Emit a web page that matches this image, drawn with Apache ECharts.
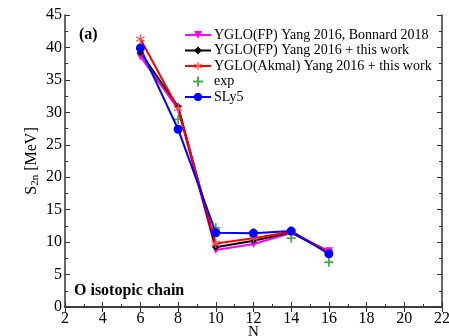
<!DOCTYPE html>
<html><head><meta charset="utf-8">
<script src="https://cdn.jsdelivr.net/npm/echarts@6/dist/echarts.min.js"></script>
<style>html,body{margin:0;padding:0;background:#fff}#c{width:449px;height:336px}</style>
</head><body><div id="c"></div>
<script>
var N = [6, 8, 10, 12, 14, 16];
var fpBonnard = [38.6, 30.5, 8.8, 9.7, 11.4, 8.6];
var fpThisWork = [39.2, 30.9, 9.2, 10.2, 11.5, 8.4];
var akmalThisWork = [41.3, 30.6, 9.8, 10.6, 11.6, 8.5];
var expVals = [null, 28.9, 12.2, 11.5, 10.6, 6.9];
var sly5 = [39.9, 27.4, 11.45, 11.35, 11.7, 8.2];
var names = ['YGLO(FP) Yang 2016, Bonnard 2018', 'YGLO(FP) Yang 2016 + this work', 'YGLO(Akmal) Yang 2016 + this work', 'exp', 'SLy5'];

function pairs(v){ var o=[]; for (var i=0;i<N.length;i++){ if (v[i]!==null) o.push([N[i], v[i]]); } return o; }
var FONT = '"Liberation Serif","DejaVu Serif",serif';
var PLUS = 'path://M4,0H6V4H10V6H6V10H4V6H0V4H4Z';
var STAR = 'path://M4.3,0H5.7V3.8L9,1.9L9.7,3.1L6.4,5L9.7,6.9L9,8.1L5.7,6.2V10H4.3V6.2L1,8.1L0.3,6.9L3.6,5L0.3,3.1L1,1.9L4.3,3.8Z';
var axisLine = {lineStyle:{color:'#333', width:1.5}};
var chart = echarts.init(document.getElementById('c'));
chart.setOption({
  animation:false,
  grid:{left:65, right:7, top:15, bottom:29, outerBoundsMode:'none', containLabel:false},
  legend:{left:184, top:28, padding:0, orient:'vertical', itemWidth:26, itemHeight:10, itemGap:1.5,
    textStyle:{fontFamily:FONT, fontSize:14, color:'#000', padding:[0,0,0,-2]}, data:names},
  xAxis:[{type:'value', min:2, max:22, interval:2, name:'N', nameLocation:'middle', nameGap:18, nameMoveOverlap:false,
    nameTextStyle:{fontFamily:FONT, fontSize:15, color:'#000'},
    axisLine:axisLine, axisTick:{inside:true, length:5, lineStyle:{color:'#333'}},
    minorTick:{show:true, splitNumber:2, length:3, lineStyle:{color:'#333'}},
    axisLabel:{fontFamily:FONT, fontSize:16, color:'#000', margin:4}, splitLine:{show:false}},
   {type:'value', position:'top', min:2, max:22, interval:2, axisLine:axisLine,
    axisTick:{inside:true, length:5, lineStyle:{color:'#333'}}, axisLabel:{show:false}, splitLine:{show:false}}],
  yAxis:[{type:'value', min:0, max:45, interval:5,
    name:'{a|S}{s|2n}{a| [MeV]}', nameLocation:'middle', nameGap:24, nameMoveOverlap:false,
    nameTextStyle:{rich:{a:{fontFamily:FONT, fontSize:16, color:'#000'}, s:{fontFamily:FONT, fontSize:11, color:'#000', verticalAlign:'bottom', padding:[8,0,0,0]}}},
    axisLine:axisLine, axisTick:{inside:true, length:5, lineStyle:{color:'#333'}},
    minorTick:{show:true, splitNumber:2, length:3, lineStyle:{color:'#333'}},
    axisLabel:{fontFamily:FONT, fontSize:16, color:'#000', margin:3}, splitLine:{show:false}},
   {type:'value', position:'right', min:0, max:45, interval:5, axisLine:axisLine,
    axisTick:{inside:true, length:5, lineStyle:{color:'#333'}},
    minorTick:{show:true, splitNumber:2, length:3, lineStyle:{color:'#333'}},
    axisLabel:{show:false}, splitLine:{show:false}}],
  graphic:[
    {type:'text', left:79, top:27, style:{text:'(a)', font:'bold 16px '+FONT, fill:'#000'}},
    {type:'text', left:74, top:283, style:{text:'O isotopic chain', font:'bold 16px '+FONT, fill:'#000'}}
  ],
  series:[
    {name:names[0], type:'line', data:pairs(fpBonnard), symbol:'triangle', symbolRotate:180, symbolSize:8,
      itemStyle:{color:'#ff00ff'}, lineStyle:{color:'#ff00ff', width:2}},
    {name:names[1], type:'line', data:pairs(fpThisWork), symbol:'diamond', symbolSize:7,
      itemStyle:{color:'#000'}, lineStyle:{color:'#000', width:2}},
    {name:names[2], type:'line', data:pairs(akmalThisWork), symbol:STAR, symbolSize:9,
      itemStyle:{color:'#ff5050'}, lineStyle:{color:'#ff0000', width:2}},
    {name:names[3], type:'scatter', data:pairs(expVals), symbol:PLUS, symbolSize:9,
      itemStyle:{color:'#1a9a1a'}},
    {name:names[4], type:'line', data:pairs(sly5), symbol:'circle', symbolSize:9,
      itemStyle:{color:'#0000ff'}, lineStyle:{color:'#0000ff', width:2}}
  ]
});
</script></body></html>
